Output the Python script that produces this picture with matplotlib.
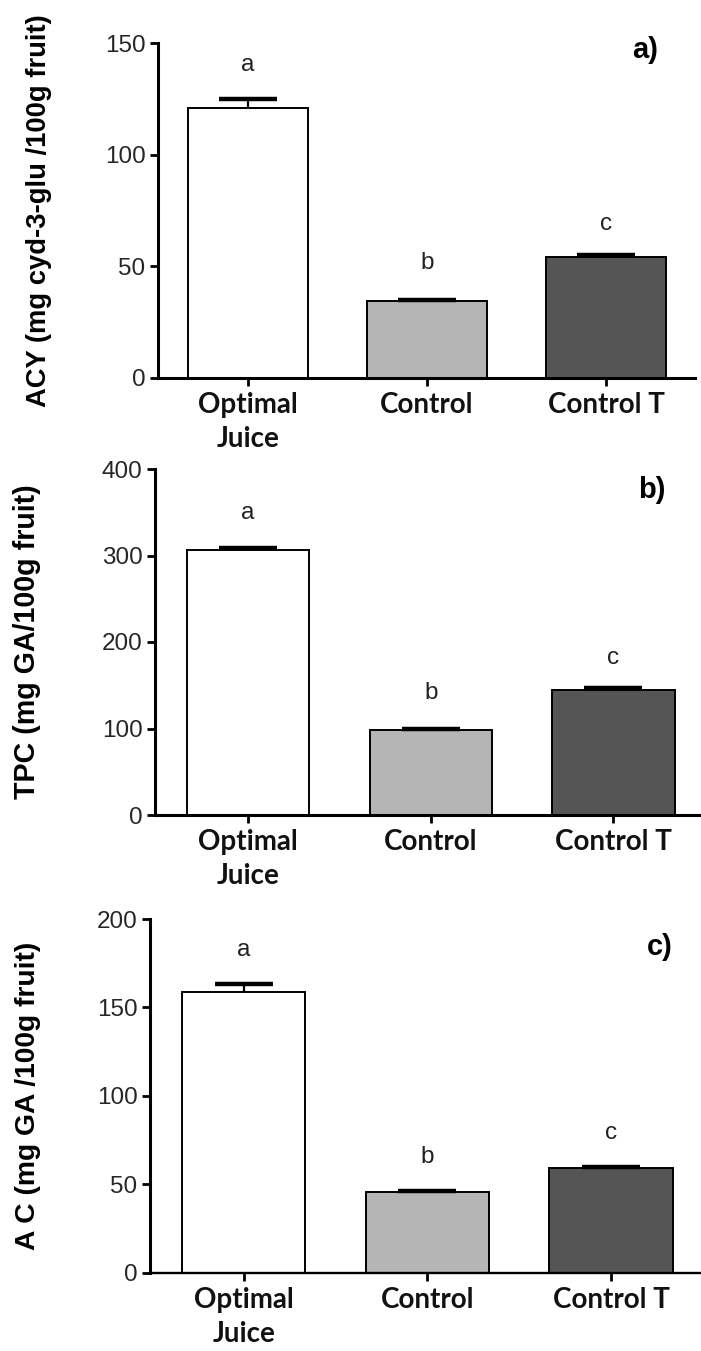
import matplotlib
matplotlib.use("Agg")
import matplotlib.pyplot as plt

categories = ["Optimal\nJuice", "Control", "Control T"]
colors = ["#ffffff", "#b5b5b5", "#555555"]

acy_mean = [121.0, 34.3, 54.0]
acy_err = [4.0, 0.8, 1.0]
acy_letters = ["a", "b", "c"]
acy_letter_y = [140, 51.5, 69]

tpc_mean = [306.5, 98.8, 144.8]
tpc_err = [2.5, 1.2, 1.5]
tpc_letters = ["a", "b", "c"]
tpc_letter_y = [349.5, 141, 181.7]

ac_mean = [158.6, 45.5, 59.3]
ac_err = [4.5, 0.9, 0.7]
ac_letters = ["a", "b", "c"]
ac_letter_y = [182.5, 65.6, 79]

panels = [
    dict(mean=acy_mean, err=acy_err, letters=acy_letters, ly=acy_letter_y,
         ylim=(0, 150), yticks=[0, 50, 100, 150],
         ylabel="ACY (mg cyd-3-glu /100g fruit)", tag="a)",
         px=(158, 43, 695, 378), xlim=(-0.503, 2.497), labx=39,
         tagpos=(0.907, 0.979), bw=2.2, lfs=19.7),
    dict(mean=tpc_mean, err=tpc_err, letters=tpc_letters, ly=tpc_letter_y,
         ylim=(0, 400), yticks=[0, 100, 200, 300, 400],
         ylabel="TPC (mg GA/100g fruit)", tag="b)",
         px=(155, 469, 701, 815), xlim=(-0.51, 2.48), labx=27,
         tagpos=(0.910, 0.939), bw=2.2, lfs=20.6),
    dict(mean=ac_mean, err=ac_err, letters=ac_letters, ly=ac_letter_y,
         ylim=(0, 200), yticks=[0, 50, 100, 150, 200],
         ylabel="A C (mg GA /100g fruit)", tag="c)",
         px=(150, 919, 701, 1272.7), xlim=(-0.51, 2.49), labx=28,
         tagpos=(0.926, 0.921), bw=1.7, lfs=20.3),
]

W, H = 701, 1351
fig = plt.figure(figsize=(W / 100, H / 100), dpi=100)

for p in panels:
    l, t, r, b = p["px"]
    ax = fig.add_axes([l / W, (H - b) / H, (r - l) / W, (b - t) / H])
    x = list(range(len(categories)))
    ax.bar(x, p["mean"], width=0.67, color=colors, edgecolor="black",
           linewidth=1.4, zorder=2)
    eb = ax.errorbar(x, p["mean"], yerr=[[0] * 3, p["err"]], fmt="none",
                     ecolor="black", elinewidth=1.6, capsize=21, capthick=3.2,
                     zorder=3)
    caplines = eb[1]
    if len(caplines) == 2:
        caplines[0].set_visible(False)
    for xi, lt, yy in zip(x, p["letters"], p["ly"]):
        ax.text(xi, yy, lt, ha="center", va="center", fontsize=17.5,
                family="Liberation Sans", color="#222222")
    ax.set_xlim(*p["xlim"])
    ax.set_ylim(*p["ylim"])
    ax.set_yticks(p["yticks"])
    ax.set_xticks(x)
    ax.set_xticklabels(categories, family="Lato", fontweight="bold",
                       fontsize=20, linespacing=1.4, color="#111111")
    for lab in ax.get_yticklabels():
        lab.set_family("Liberation Sans")
        lab.set_fontsize(17.5)
        lab.set_color("#262626")
    ax.spines["top"].set_visible(False)
    ax.spines["right"].set_visible(False)
    ax.spines["left"].set_linewidth(2.2)
    ax.spines["bottom"].set_linewidth(p["bw"])
    ax.tick_params(axis="y", length=6, width=2.0, pad=3)
    ax.tick_params(axis="x", length=6, width=2.0, pad=4)
    ax.text(p["tagpos"][0], p["tagpos"][1], p["tag"], transform=ax.transAxes,
            ha="center", va="center", fontsize=21, fontweight="bold",
            family="Liberation Sans")
    fig.text(p["labx"] / W, 1 - ((t + b) / 2) / H, p["ylabel"], rotation=90,
             ha="center", va="center", fontsize=p["lfs"], fontweight="bold",
             family="Liberation Sans")

fig.savefig("out.png", dpi=100)
